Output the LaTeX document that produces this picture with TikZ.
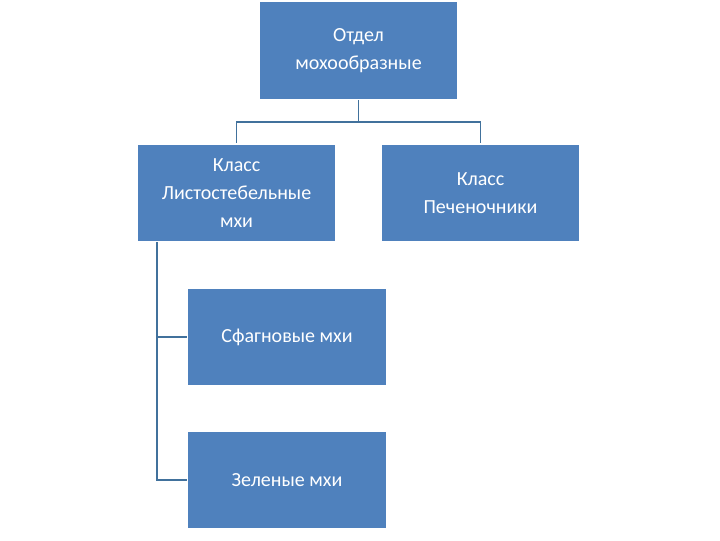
\documentclass[tikz,border=0pt]{standalone}
\usepackage{fontspec}
\setmainfont{Carlito}
\begin{document}
\begin{tikzpicture}[x=0.75pt,y=-0.75pt,
  box/.style={draw=white,line width=0.8pt,fill={rgb,255:red,79;green,129;blue,189},text=white,minimum width=149pt,minimum height=73.5pt,inner sep=0pt,align=center,font=\fontsize{15}{21}\selectfont},
  conn/.style={draw={rgb,255:red,65;green,113;blue,156},line width=1.4pt}]
\useasboundingbox (0,0) rectangle (720,540);
\node[box] (top) at (358.5,50.5) {Отдел\\мохообразные};
\node[box] (lc) at (236.5,193) {Класс\\Листостебельные\\мхи};
\node[box] (rc) at (480.5,193) {Класс\\Печеночники};
\node[box] (s) at (287,337) {Сфагновые мхи};
\node[box] (g) at (287,480) {Зеленые мхи};
\coordinate (j) at (358.5,122);
\draw[conn] (top.south) -- (j);
\draw[conn] (j) -| (lc.north);
\draw[conn] (j) -| (rc.north);
\coordinate (l) at (157,242);
\draw[conn] (l) |- (g.west);
\draw[conn] (157,337) -- (s.west);
\end{tikzpicture}
\end{document}
